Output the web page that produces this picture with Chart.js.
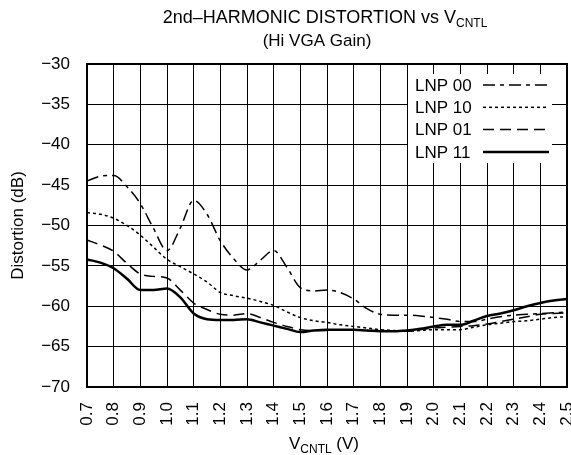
<!DOCTYPE html>
<html>
<head>
<meta charset="utf-8">
<script src="https://cdn.jsdelivr.net/npm/chart.js@4/dist/chart.umd.min.js"></script>
<style>
  body { margin: 0; background: #fff; }
  #wrap { width: 571px; height: 455px; }
</style>
</head>
<body>
<div id="wrap"><canvas id="distChart" width="571" height="455"></canvas></div>
<script>
// V_CNTL sample points (V)
const volts = [0.70, 0.75, 0.80, 0.85, 0.90, 0.95, 1.00, 1.05, 1.10, 1.15, 1.20, 1.25, 1.30,
  1.35, 1.40, 1.45, 1.50, 1.55, 1.60, 1.65, 1.70, 1.75, 1.80, 1.85, 1.90, 1.95, 2.00,
  2.05, 2.10, 2.15, 2.20, 2.25, 2.30, 2.35, 2.40, 2.45, 2.50];

// distortion (dB)
const lnp00 = [-44.5, -43.9, -43.8, -45.2, -47.3, -50.4, -53.1, -50.3, -46.9, -48.6, -51.9, -54.1, -55.5,
  -54.3, -53.1, -55.2, -57.7, -58.1, -58.0, -58.3, -59.1, -60.3, -61.0, -61.1, -61.1, -61.2, -61.4,
  -61.6, -61.9, -61.9, -61.6, -61.3, -61.1, -61.0, -60.9, -60.8, -60.7];
const lnp10 = [-48.4, -48.6, -49.1, -50.0, -51.2, -52.7, -54.2, -55.1, -56.0, -57.0, -58.3, -58.7, -59.0,
  -59.4, -59.9, -60.7, -61.4, -61.8, -62.0, -62.3, -62.5, -62.7, -62.9, -63.0, -63.1, -63.0, -62.9,
  -62.9, -62.9, -62.6, -62.3, -62.1, -61.9, -61.8, -61.6, -61.4, -61.3];
const lnp01 = [-51.8, -52.4, -53.2, -54.7, -56.0, -56.3, -56.5, -58.0, -59.6, -60.4, -61.0, -61.1, -60.9,
  -61.4, -62.0, -62.5, -62.9, -63.0, -63.0, -62.9, -62.9, -63.0, -63.0, -63.1, -63.1, -62.9, -62.7,
  -62.6, -62.5, -62.4, -62.2, -61.9, -61.6, -61.3, -61.0, -60.9, -60.8];
const lnp11 = [-54.2, -54.6, -55.3, -56.6, -58.0, -58.0, -57.8, -58.9, -60.9, -61.6, -61.7, -61.7, -61.6,
  -62.0, -62.4, -62.8, -63.2, -63.0, -62.9, -62.9, -62.9, -63.0, -63.1, -63.1, -63.0, -62.8, -62.5,
  -62.3, -62.3, -61.8, -61.2, -60.9, -60.5, -60.0, -59.6, -59.3, -59.1];

const seriesNames = ['LNP 00', 'LNP 10', 'LNP 01', 'LNP 11'];

const FONT = '"Liberation Sans", Arial, sans-serif';
const FS = 17;

function pts(vals) {
  return volts.map((v, i) => ({ x: v, y: vals[i] }));
}

function mkSet(label, vals, dash, width) {
  return {
    label: label,
    data: pts(vals),
    borderColor: '#000',
    borderWidth: width,
    borderDash: dash,
    pointRadius: 0,
    fill: false,
    tension: 0.4,
    cubicInterpolationMode: 'monotone'
  };
}

// draws "main" + subscript + "tail" centred on cx
function subText(ctx, main, sub, tail, cx, y, size) {
  ctx.font = size + 'px ' + FONT;
  const w1 = ctx.measureText(main).width;
  const w3 = ctx.measureText(tail).width;
  ctx.font = '12px ' + FONT;
  const w2 = ctx.measureText(sub).width;
  let x = cx - (w1 + w2 + w3) / 2;
  ctx.textAlign = 'left';
  ctx.textBaseline = 'alphabetic';
  ctx.font = size + 'px ' + FONT;
  ctx.fillText(main, x, y);
  x += w1;
  ctx.font = '12px ' + FONT;
  ctx.fillText(sub, x, y + 4);
  x += w2;
  ctx.font = size + 'px ' + FONT;
  ctx.fillText(tail, x, y);
}

const decor = {
  id: 'decor',
  afterDatasetsDraw(chart) {
    const ctx = chart.ctx;
    const a = chart.chartArea;
    ctx.save();
    // legend box inside the plot
    ctx.fillStyle = '#fff';
    ctx.fillRect(a.right - 159, a.top + 10, 144, 89);
    ctx.fillStyle = '#000';
    ctx.font = FS + 'px ' + FONT;
    ctx.textAlign = 'left';
    ctx.textBaseline = 'middle';
    chart.data.datasets.forEach((ds, i) => {
      const y = a.top + 21 + i * 22.3;
      ctx.fillText(ds.label, a.right - 152, y + 1);
      ctx.beginPath();
      ctx.setLineDash(ds.borderDash);
      ctx.lineWidth = ds.borderWidth;
      ctx.strokeStyle = '#000';
      ctx.moveTo(a.right - 84, y);
      ctx.lineTo(a.right - 18, y);
      ctx.stroke();
    });
    ctx.setLineDash([]);
    // frame
    ctx.lineWidth = 2;
    ctx.strokeRect(a.left, a.top, a.right - a.left, a.bottom - a.top);
    ctx.restore();
  },
  afterDraw(chart) {
    const ctx = chart.ctx;
    const a = chart.chartArea;
    const cx = (a.left + a.right) / 2;
    ctx.save();
    ctx.fillStyle = '#000';
    subText(ctx, '2nd\u2013HARMONIC DISTORTION vs V', 'CNTL', '', cx - 2, 23, 18);
    ctx.font = FS + 'px ' + FONT;
    ctx.textAlign = 'center';
    ctx.fillText('(Hi VGA Gain)', cx - 10, 46);
    subText(ctx, 'V', 'CNTL', ' (V)', cx - 3, 449, FS);
    ctx.restore();
  }
};

const distCtx = document.getElementById('distChart').getContext('2d');
const distChart = new Chart(distCtx, {
  type: 'line',
  data: {
    datasets: [
      mkSet(seriesNames[0], lnp00, [12, 5, 4, 5], 1.5),
      mkSet(seriesNames[1], lnp10, [3, 3], 1.5),
      mkSet(seriesNames[2], lnp01, [11, 6], 1.5),
      mkSet(seriesNames[3], lnp11, [], 2.5)
    ]
  },
  options: {
    responsive: false,
    animation: false,
    layout: { padding: { top: 64, right: 4, left: 0, bottom: 0 } },
    plugins: {
      legend: { display: false },
      title: { display: false },
      tooltip: { enabled: false }
    },
    scales: {
      x: {
        type: 'linear',
        min: 0.7,
        max: 2.5,
        afterFit: s => { s.height = 68; s.paddingLeft = 0; s.paddingRight = 0; },
        grid: { color: '#000', lineWidth: 1, drawTicks: false },
        border: { color: '#000', width: 2 },
        ticks: {
          stepSize: 0.1,
          minRotation: 90,
          maxRotation: 90,
          padding: 15,
          color: '#000',
          font: { size: FS, family: FONT },
          callback: v => Number(v).toFixed(1)
        }
      },
      y: {
        min: -70,
        max: -30,
        afterFit: s => { s.width = 87; s.paddingTop = 0; s.paddingBottom = 0; },
        grid: { color: '#000', lineWidth: 1, drawTicks: false },
        border: { color: '#000', width: 2 },
        title: {
          display: true,
          text: 'Distortion (dB)',
          color: '#000',
          font: { size: FS, family: FONT },
          padding: { top: 8, bottom: 0 }
        },
        ticks: {
          stepSize: 5,
          padding: 17,
          color: '#000',
          font: { size: FS, family: FONT },
          callback: v => (v < 0 ? '\u2212' + Math.abs(v) : String(v))
        }
      }
    }
  },
  plugins: [decor]
});
</script>
</body>
</html>
